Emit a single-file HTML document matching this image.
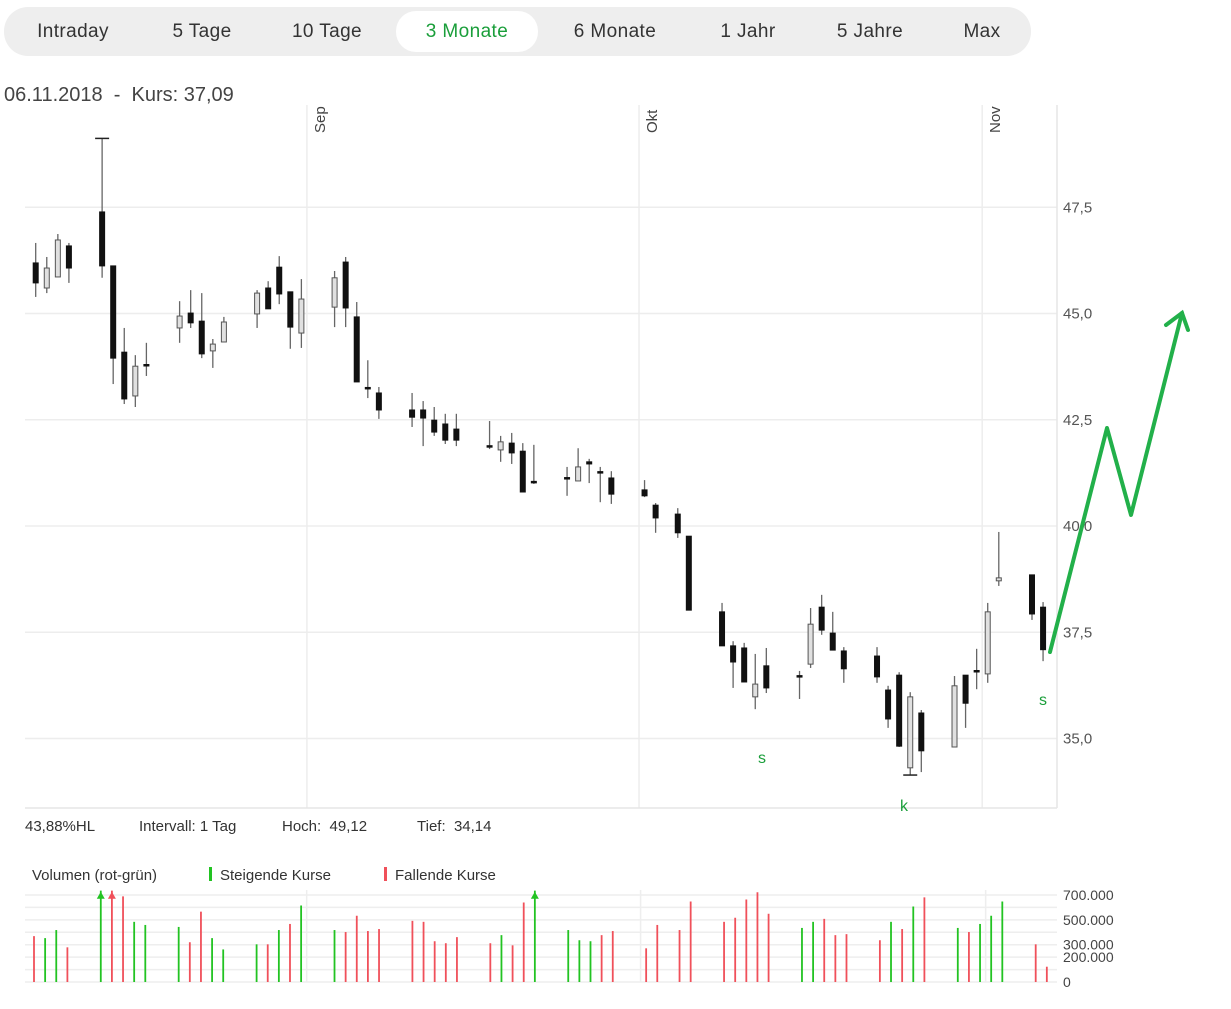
<!DOCTYPE html>
<html><head><meta charset="utf-8"><style>
body{margin:0;background:#fff;width:1231px;height:1009px;overflow:hidden;font-family:"Liberation Sans",sans-serif}
text{white-space:pre}
</style></head><body>
<svg width="1231" height="1009" viewBox="0 0 1231 1009" xmlns="http://www.w3.org/2000/svg" id="root" style="position:absolute;left:0;top:0">
<g font-family="Liberation Sans, sans-serif" font-size="19" fill="#333" letter-spacing="0.4">
<rect x="4" y="7" width="1027" height="49" rx="24" fill="#eeeeee"/>
<rect x="396" y="11" width="142" height="41" rx="20" fill="#fff"/>
<text x="73" y="37" text-anchor="middle">Intraday</text>
<text x="202" y="37" text-anchor="middle">5 Tage</text>
<text x="327" y="37" text-anchor="middle">10 Tage</text>
<text x="467" y="37" text-anchor="middle" fill="#1a9e3a">3 Monate</text>
<text x="615" y="37" text-anchor="middle">6 Monate</text>
<text x="748" y="37" text-anchor="middle">1 Jahr</text>
<text x="870" y="37" text-anchor="middle">5 Jahre</text>
<text x="982" y="37" text-anchor="middle">Max</text>
</g>
<text x="4" y="101" font-size="20" fill="#444">06.11.2018  -  Kurs: 37,09</text>
<g id="grid"></g>
<g id="candles"></g>
<g font-size="15" fill="#333">
<text x="25" y="831">43,88%HL</text>
<text x="139" y="831">Intervall: 1 Tag</text>
<text x="282" y="831">Hoch:  49,12</text>
<text x="417" y="831">Tief:  34,14</text>
</g>
<g font-size="15" fill="#333">
<text x="32" y="880">Volumen (rot-grün)</text>
<rect x="209" y="867" width="3" height="14" fill="#22c322"/>
<text x="220" y="880">Steigende Kurse</text>
<rect x="384" y="867" width="3" height="14" fill="#f0505a"/>
<text x="395" y="880">Fallende Kurse</text>
</g>
<g id="vol"></g>
<g font-size="16" fill="#1a9e3a">
<text x="758" y="763">s</text>
<text x="900" y="811">k</text>
<text x="1039" y="705">s</text>
<polyline points="1050,652 1107,428 1131,515 1182,313" fill="none" stroke="#22b04a" stroke-width="4" stroke-linejoin="round" stroke-linecap="round"/>
<polyline points="1166,325 1182,313 1188,330" fill="none" stroke="#22b04a" stroke-width="4" stroke-linecap="round"/>
</g>
</svg>
<script>
const days=[0,1,2,3,6,7,8,9,10,13,14,15,16,17,20,21,22,23,24,27,28,29,30,31,34,35,36,37,38,41,42,43,44,45,48,49,50,51,52,55,56,58,59,62,63,64,65,66,69,70,71,72,73,76,77,78,79,80,83,84,85,86,87,90,91];
const opens=[46.19,45.60,45.86,46.59,47.39,46.12,44.09,43.06,43.80,44.66,45.01,44.82,44.12,44.33,44.99,45.60,46.09,45.51,44.54,45.15,46.21,44.92,43.26,43.13,42.73,42.73,42.49,42.40,42.28,41.89,41.79,41.95,41.76,41.05,41.14,41.06,41.51,41.28,41.13,40.85,40.49,40.28,39.76,37.98,37.18,37.13,35.98,36.71,36.48,36.75,38.09,37.48,37.06,36.94,36.14,36.49,34.31,35.60,34.80,36.49,36.60,36.52,38.71,38.85,38.09];
const highs=[46.66,46.33,46.87,46.66,49.12,46.12,44.66,44.02,44.31,45.29,45.55,45.48,44.40,44.92,45.55,45.76,46.35,45.51,45.81,46.00,46.33,45.27,43.90,43.27,43.13,42.94,42.80,42.64,42.64,42.47,42.12,42.19,41.95,41.91,41.39,41.83,41.58,41.39,41.29,41.08,40.54,40.42,39.76,38.19,37.29,37.25,36.99,37.13,36.59,38.07,38.38,37.98,37.15,37.15,36.24,36.56,36.09,35.67,36.47,36.49,37.11,38.19,39.86,38.85,38.21];
const lows=[45.39,45.48,45.86,45.72,45.84,43.34,42.87,42.80,43.53,44.31,44.66,43.95,43.72,44.33,44.66,45.11,45.22,44.17,44.19,44.68,44.68,43.39,43.01,42.52,42.33,41.88,42.12,41.93,41.88,41.81,41.51,41.46,40.80,40.99,40.71,41.06,41.01,40.56,40.52,40.68,39.84,39.72,38.02,37.18,36.19,36.33,35.69,36.07,35.93,36.66,37.44,37.08,36.31,36.31,35.25,34.80,34.14,34.21,34.80,35.25,36.16,36.31,38.59,37.79,36.82];
const closes=[45.72,46.07,46.73,46.07,46.12,43.95,42.99,43.76,43.78,44.94,44.78,44.05,44.28,44.80,45.48,45.11,45.46,44.68,45.34,45.84,45.13,43.39,43.24,42.73,42.56,42.54,42.21,42.02,42.02,41.88,41.98,41.72,40.80,41.03,41.12,41.39,41.46,41.27,40.75,40.71,40.19,39.84,38.02,37.18,36.80,36.33,36.28,36.19,36.46,37.69,37.55,37.08,36.64,36.45,35.46,34.82,35.98,34.71,36.24,35.83,36.59,37.98,38.78,37.93,37.09];
const priceTicks=[35,37.5,40,42.5,45,47.5];
const priceTickLabels=["35,0","37,5","40,0","42,5","45,0","47,5"];
const monthDays=[24.5,54.5,85.5];
const monthLabels=["Sep","Okt","Nov"];
const volumes=[369,353,418,279,1200,1100,689,484,459,443,320,566,353,262,303,303,418,467,615,418,402,533,410,426,492,484,328,312,361,312,377,295,640,1000,418,336,328,377,410,271,459,418,648,484,517,664,722,549,435,484,508,377,385,336,484,426,607,681,435,402,467,533,648,303,123];
const volColors=["r","g","g","r","g","r","r","g","g","g","r","r","g","g","g","r","g","r","g","g","r","r","r","r","r","r","r","r","r","r","g","r","r","g","g","g","g","r","r","r","r","r","r","r","r","r","r","r","g","g","r","r","r","r","g","r","g","r","g","r","g","g","g","r","r"];
const volTicks=[0,200,300,500,700];
const volTickLabels=["0","200.000","300.000","500.000","700.000"];

const NS="http://www.w3.org/2000/svg";
function mk(tag,attrs,parent){const e=document.createElementNS(NS,tag);for(const k in attrs)e.setAttribute(k,attrs[k]);parent.appendChild(e);return e;}
const xDay=d=>35.7+d*11.07;
const yP=p=>526-(p-40)*42.5;
const xVol=d=>34+d*11.13;
const yV=v=>982-v*0.1243;

const grid=document.getElementById('grid');
let e;
priceTicks.forEach((t,i)=>{
 e=mk('line',{x1:25,x2:1057,y1:yP(t),y2:yP(t),stroke:'#ededed','stroke-width':1.5},grid);
 
 
 e=mk('text',{x:1063,y:yP(t)+5,'font-size':15,fill:'#555'},grid);
 e.textContent=priceTickLabels[i];
 
 
});
monthDays.forEach((d,i)=>{
 const x=xDay(d);
 e=mk('line',{x1:x,x2:x,y1:105,y2:808,stroke:'#ededed','stroke-width':1.5},grid);
 
 
 e=mk('text',{x:0,y:0,'font-size':15,fill:'#444',transform:`translate(${x+18},${133}) rotate(-90)`},grid);
 e.textContent=monthLabels[i];
 
 
});
e=mk('line',{x1:1057,x2:1057,y1:105,y2:808,stroke:'#e6e6e6','stroke-width':1.5},grid);


e=mk('line',{x1:25,x2:1057,y1:808,y2:808,stroke:'#e6e6e6','stroke-width':1.5},grid);



const cg=document.getElementById('candles');
const maxH=Math.max(...highs), minL=Math.min(...lows);
days.forEach((d,i)=>{
 const x=xDay(d);
 e=mk('line',{x1:x,x2:x,y1:yP(highs[i]),y2:yP(lows[i]),stroke:'#666','stroke-width':1.3},cg);
 
 
 const top=yP(Math.max(opens[i],closes[i])), bot=yP(Math.min(opens[i],closes[i]));
 const up=closes[i]>opens[i];
 const h=Math.max(bot-top,1.5);
 e=mk('rect',{x:x-2.5,y:top,width:5,height:h,fill:up?'#e0e0e0':'#111',stroke:up?'#555':'#111','stroke-width':1},cg);
 
 
 if(highs[i]===maxH){e=mk('line',{x1:x-7,x2:x+7,y1:yP(highs[i]),y2:yP(highs[i]),stroke:'#222','stroke-width':1.5},cg);
  
  }
 if(lows[i]===minL){e=mk('line',{x1:x-7,x2:x+7,y1:yP(lows[i]),y2:yP(lows[i]),stroke:'#222','stroke-width':1.5},cg);
  
  }
});

const vg=document.getElementById('vol');
for(let v=0;v<=700;v+=100){
 e=mk('line',{x1:25,x2:1057,y1:yV(v),y2:yV(v),stroke:'#eeeeee','stroke-width':1.5},vg);
 
 
}
monthDays.forEach(d=>{
 const x=xVol(d);
 e=mk('line',{x1:x,x2:x,y1:890,y2:982,stroke:'#eeeeee','stroke-width':1.5},vg);
 
 
});
volTicks.forEach((t,i)=>{
 e=mk('text',{x:1063,y:yV(t)+5,'font-size':14,fill:'#444'},vg);
 e.textContent=volTickLabels[i];
 
 
});
const cap=735;
days.forEach((d,i)=>{
 const x=xVol(d), col=volColors[i]==='g'?'#22c322':'#f0505a';
 const v=Math.min(volumes[i],cap);
 e=mk('line',{x1:x,x2:x,y1:yV(0),y2:yV(v),stroke:col,'stroke-width':1.8},vg);
 
 
 if(volumes[i]>cap){
  const yt=yV(718)-1;
  e=mk('polygon',{points:`${x-4},${yt+7} ${x},${yt} ${x+4},${yt+7}`,fill:col},vg);
  
  
 }
});
</script>
</body></html>
